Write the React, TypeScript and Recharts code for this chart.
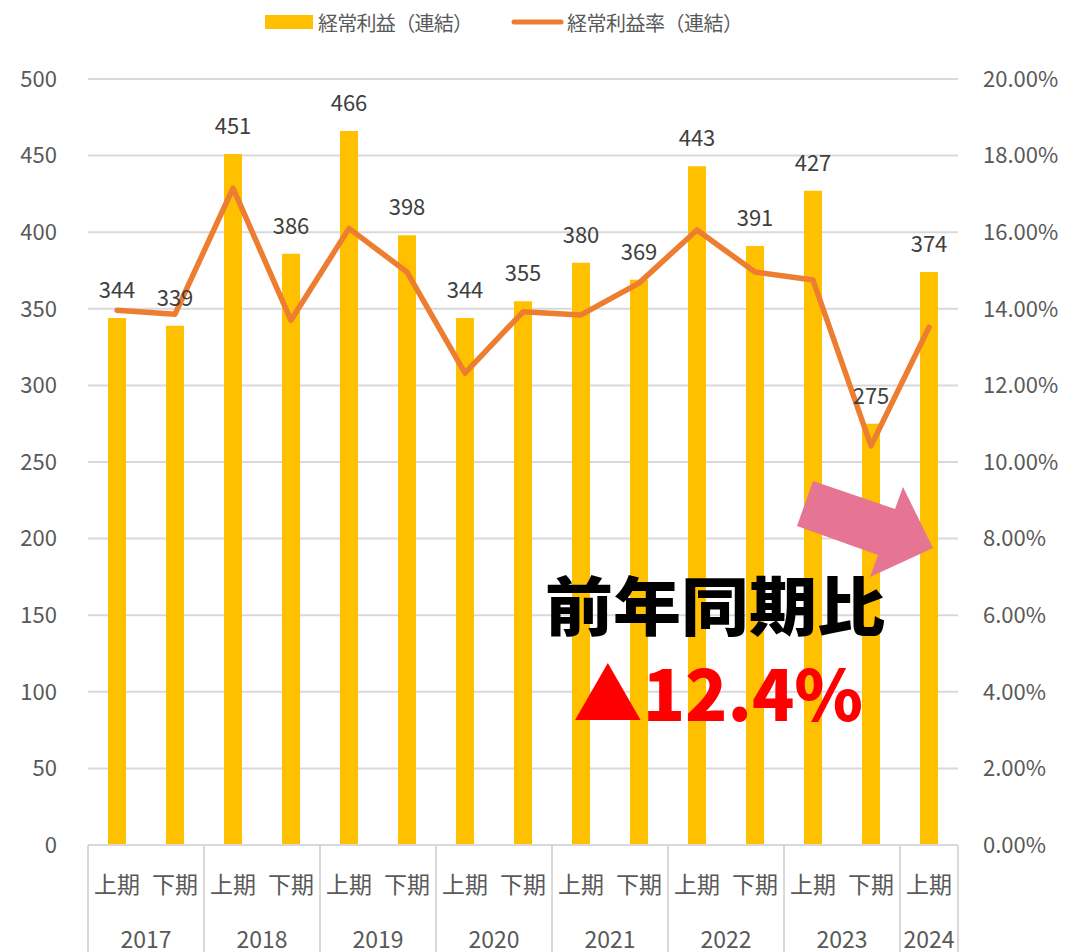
import React from "react";
import { ComposedChart, Bar, Line, XAxis, YAxis, CartesianGrid, LabelList } from "recharts";

const years = ["2017", "2017", "2018", "2018", "2019", "2019", "2020", "2020", "2021", "2021", "2022", "2022", "2023", "2023", "2024"];
const halves = ["上期", "下期", "上期", "下期", "上期", "下期", "上期", "下期", "上期", "下期", "上期", "下期", "上期", "下期", "上期"];
const profit = [344, 339, 451, 386, 466, 398, 344, 355, 380, 369, 443, 391, 427, 275, 374];
const profitRate = [13.96, 13.86, 17.15, 13.7, 16.1, 14.96, 12.32, 13.92, 13.84, 14.67, 16.06, 14.96, 14.75, 10.42, 13.52];

const leftTicks = [0, 50, 100, 150, 200, 250, 300, 350, 400, 450, 500];
const rightTicks = [0, 2, 4, 6, 8, 10, 12, 14, 16, 18, 20];

const barName = "経常利益（連結）";
const lineName = "経常利益率（連結）";
const headline = "前年同期比";
const changeText = "▲12.4%";

const data = profit.map((p, i) => ({ idx: i, profit: p, rate: profitRate[i] }));

const FONT = "'Noto Sans CJK JP', 'Noto Sans', sans-serif";
const AXIS_COLOR = "#595959";
const GRID = "#d9d9d9";
const BAND = 58;

const CategoryTick = (props: any) => {
  const { x, y, payload } = props;
  const i = payload.value as number;
  const firstOfYear = i === 0 || years[i - 1] !== years[i];
  const pairNext = i + 1 < years.length && years[i + 1] === years[i];
  const last = i === years.length - 1;
  return (
    <g>
      <text x={x} y={y + 38} textAnchor="middle" dominantBaseline="central" fill={AXIS_COLOR} fontSize={23} fontFamily={FONT}>
        {halves[i]}
      </text>
      {firstOfYear && (
        <>
          <line x1={x - BAND / 2} x2={x - BAND / 2} y1={y} y2={y + 107} stroke={GRID} strokeWidth={2} />
          <text x={pairNext ? x + BAND / 2 : x} y={y + 93} textAnchor="middle" dominantBaseline="central" fill={AXIS_COLOR} fontSize={23} fontFamily={FONT}>
            {years[i]}
          </text>
        </>
      )}
      {last && <line x1={x + BAND / 2} x2={x + BAND / 2} y1={y} y2={y + 107} stroke={GRID} strokeWidth={2} />}
    </g>
  );
};

export default function App() {
  return (
    <div style={{ position: "absolute", left: 0, top: 0, width: 1079, height: 952, background: "#fff", fontFamily: FONT }}>
      <ComposedChart width={1079} height={952} data={data} margin={{ top: 79, right: 0, bottom: 0, left: 0 }}>
        <CartesianGrid vertical={false} stroke={GRID} strokeWidth={2} yAxisId="left" />
        <XAxis
          dataKey="idx"
          height={107}
          interval={0}
          tickLine={false}
          tickSize={0}
          tickMargin={0}
          axisLine={{ stroke: GRID, strokeWidth: 2 }}
          tick={<CategoryTick />}
        />
        <YAxis
          yAxisId="left"
          width={88}
          domain={[0, 500]}
          ticks={leftTicks}
          axisLine={false}
          tickLine={false}
          tickSize={0}
          tickMargin={31}
          tick={{ fill: AXIS_COLOR, fontSize: 22, fontFamily: FONT }}
        />
        <YAxis
          yAxisId="right"
          orientation="right"
          width={121}
          domain={[0, 20]}
          ticks={rightTicks}
          axisLine={false}
          tickLine={false}
          tickSize={0}
          tickMargin={25}
          tickFormatter={(v: number) => v.toFixed(2) + "%"}
          tick={{ fill: AXIS_COLOR, fontSize: 22, fontFamily: FONT, textAnchor: "start" }}
        />
        <Bar yAxisId="left" dataKey="profit" name={barName} fill="#FFC000" barSize={18} isAnimationActive={false}>
          <LabelList dataKey="profit" position="top" offset={20} fill="#404040" fontSize={22} fontFamily={FONT} />
        </Bar>
        <Line
          yAxisId="right"
          dataKey="rate"
          name={lineName}
          stroke="#ED7D31"
          strokeWidth={5.5}
          strokeLinecap="round"
          strokeLinejoin="round"
          dot={false}
          activeDot={false}
          isAnimationActive={false}
        />
      </ComposedChart>
      <svg width={1079} height={952} style={{ position: "absolute", left: 0, top: 0, pointerEvents: "none" }}>
        {/* legend */}
        <rect x={265} y={15} width={48} height={14} fill="#FFC000" />
        <text x={318} y={22} dominantBaseline="central" fill={AXIS_COLOR} fontSize={20} fontFamily={FONT} textLength={155}>
          {barName}
        </text>
        <line x1={514} x2={561} y1={22} y2={22} stroke="#ED7D31" strokeWidth={5} strokeLinecap="round" />
        <text x={567} y={22} dominantBaseline="central" fill={AXIS_COLOR} fontSize={20} fontFamily={FONT} textLength={176}>
          {lineName}
        </text>
        {/* callout */}
        <polygon points="813,481 895,509 903,487 933,548 870,577 878,555 797,526" fill="#E57592" />
        <text x={545} y={602} dominantBaseline="central" fill="#000" fontSize={64} fontWeight={900} fontFamily={FONT} textLength={340} lengthAdjust="spacingAndGlyphs">
          {headline}
        </text>
        <text x={573} y={690} dominantBaseline="central" fill="#FF0000" fontSize={70} fontWeight={900} fontFamily={FONT} textLength={290} lengthAdjust="spacingAndGlyphs">
          {changeText}
        </text>
      </svg>
    </div>
  );
}
